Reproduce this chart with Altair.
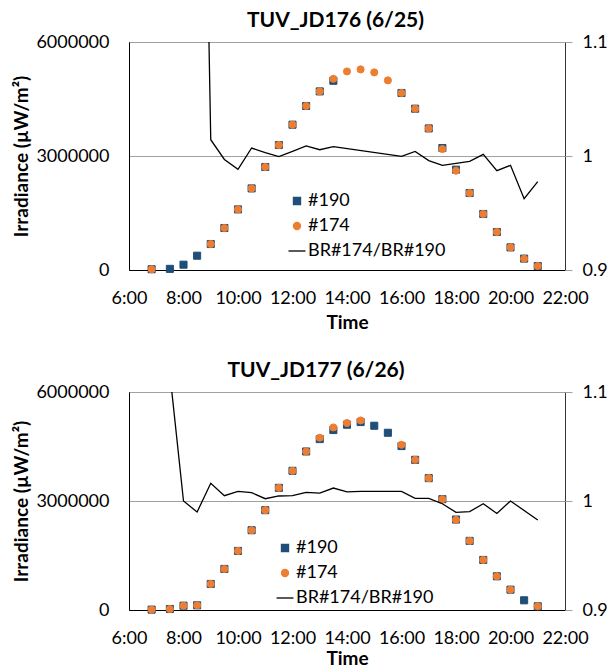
import altair as alt
import pandas as pd

# ---- data ----
TIMES = [6.83, 7.5, 8.0, 8.5, 9.0, 9.5, 10.0, 10.5, 11.0, 11.5, 12.0, 12.5, 13.0, 13.5,
         14.0, 14.5, 15.0, 15.5, 16.0, 16.5, 17.0, 17.5, 18.0, 18.5, 19.0, 19.5, 20.0, 20.5, 21.0]

P1_190 = [20000, 30000, 140000, 376000, 684000, 1105000, 1595000, 2147000, 2711000, 3289000,
          3824000, 4316000, 4700000, 4980000, None, None, None, None, 4658000, 4245000,
          3726000, 3210000, 2640000, 2026000, 1474000, 1000000, 595000, 300000, 105000]
P1_174 = [20000, None, None, None, 684000, 1105000, 1595000, 2147000, 2711000, 3289000,
          3824000, 4316000, 4700000, 5030000, 5226000, 5279000, 5200000, 4990000, 4658000, 4245000,
          3726000, 3184000, 2613000, 2026000, 1474000, 1000000, 595000, 297000, 105000]
P1_RATIO = [None, None, None, 1.67, 1.0143, 0.997, 0.9883, 1.007, 1.003, 0.9994,
            1.004, 1.0088, 1.0055, 1.0082, None, None, None, None, 0.9997, 1.004,
            0.996, 0.9918, 0.9935, 0.9953, 1.0014, 0.9871, 0.9918, 0.9625, 0.9775]

P2_190 = [10000, 27000, 119000, 129000, 717000, 1130000, 1626000, 2196000, 2748000, 3362000,
          3831000, 4363000, 4704000, 4953000, 5100000, 5173000, 5071000, 4878000, 4512000, 4134000,
          3629000, 3050000, 2490000, 1902000, 1378000, 928000, 560000, 267000, 102000]
P2_174 = [10000, 27000, 119000, 129000, 717000, 1130000, 1626000, 2196000, 2748000, 3362000,
          3831000, 4363000, 4741000, 5025000, 5145000, 5218000, None, None, 4548000, 4134000,
          3629000, 3050000, 2480000, 1902000, 1378000, 928000, 560000, None, 102000]
P2_RATIO = [None, 1.117, 1.0, 0.9899, 1.0162, 1.0049, 1.0088, 1.0076, 1.0021, 1.0046,
            1.0049, 1.0079, 1.0073, 1.0119, 1.0083, 1.0088, None, None, 1.0088, 1.0024,
            1.0024, 0.9975, 0.9896, 0.9902, 0.9975, 0.9886, 1.0, None, 0.9826]

SERIES = ["#190", "#174", "BR#174/BR#190"]
COLORS = ["#1F4E79", "#ED7D31", "#000000"]
# last entry: a short horizontal stroke used as the legend symbol of the ratio line
SHAPES = ["square", "circle", "M-2.4,0H2.4"]
X_TICKS = [6, 8, 10, 12, 14, 16, 18, 20, 22]
Y_TICKS = [0, 3000000, 6000000]
R_TICKS = [0.9, 1.0, 1.1]

FONT = "Lato"


def panel(title, s190, s174, ratio, height, dx, lx, ly, tpad):
    rows = []
    for name, vals in (("#190", s190), ("#174", s174)):
        for t, v in zip(TIMES, vals):
            if v is not None:
                rows.append({"time": t, "value": v, "series": name})
    pts = pd.DataFrame(rows)
    rat = pd.DataFrame([{"time": t, "ratio": r} for t, r in zip(TIMES, ratio) if r is not None])

    x = alt.X("time:Q",
              scale=alt.Scale(domain=[6, 22], nice=False, zero=False),
              axis=alt.Axis(values=X_TICKS, labelExpr="datum.value + ':00'", title="Time",
                            ticks=False, labelPadding=19, titlePadding=tpad, grid=False,
                            domainColor="#000000", labelFlush=False, labelOverlap=False))

    leg = alt.Legend(title=None, orient="none", legendX=lx, legendY=ly, padding=0,
                     labelFont=FONT, labelFontSize=18, labelColor="#000000",
                     labelOffset=2, rowPadding=7, symbolStrokeWidth=1.3, symbolSize=50)

    points = alt.Chart(pts).mark_point(filled=True, opacity=1, strokeWidth=1, size=50).encode(
        x=x,
        y=alt.Y("value:Q",
                scale=alt.Scale(domain=[0, 6000000], nice=False, zero=True),
                axis=alt.Axis(values=Y_TICKS, format="d", title="Irradiance (µW/m²)",
                              orient="left", ticks=False, labelPadding=20, titlePadding=4,
                              grid=True, gridColor="#A0A0A0", domainColor="#000000")),
        fill=alt.Fill("series:N", scale=alt.Scale(domain=SERIES, range=COLORS), legend=leg),
        stroke=alt.Stroke("series:N", scale=alt.Scale(domain=SERIES, range=COLORS), legend=leg),
        shape=alt.Shape("series:N", scale=alt.Scale(domain=SERIES, range=SHAPES), legend=leg),
    )

    line = alt.Chart(rat).mark_line(color="#000000", strokeWidth=1.3, clip=True).encode(
        x=x,
        y=alt.Y("ratio:Q",
                scale=alt.Scale(domain=[0.9, 1.1], nice=False, zero=False),
                axis=alt.Axis(values=R_TICKS, format="~g", title=None, orient="right",
                              grid=False, domain=False, ticks=True, tickSize=7,
                              tickColor="#A0A0A0", labelPadding=10)),
    )

    return alt.layer(points, line).resolve_scale(y="independent").properties(
        width=436, height=height,
        title=alt.TitleParams(title, font=FONT, fontSize=21, fontWeight="bold",
                              anchor="middle", dx=dx, offset=2, frame="group",
                              color="#000000"),
    )


p1 = panel("TUV_JD176 (6/25)", P1_190, P1_174, P1_RATIO, 228, -11.5, 159, 150, 6)
p2 = panel("TUV_JD177 (6/26)", P2_190, P2_174, P2_RATIO, 218, -31, 147, 147, 2)

chart = alt.vconcat(p1, p2, spacing=122, bounds="flush").resolve_scale(
    fill="independent", stroke="independent", shape="independent",
).resolve_legend(
    fill="independent", stroke="independent", shape="independent",
).properties(
    padding={"left": 12, "top": 9, "right": 0, "bottom": 0},
    background="white",
).configure_view(stroke="#333333", strokeWidth=1).configure_axis(
    labelFont=FONT, labelFontSize=18, labelColor="#000000",
    titleFont=FONT, titleFontSize=19, titleFontWeight="bold", titleColor="#000000",
)

chart.save("out.html", embed_options={"renderer": "svg", "actions": False})
